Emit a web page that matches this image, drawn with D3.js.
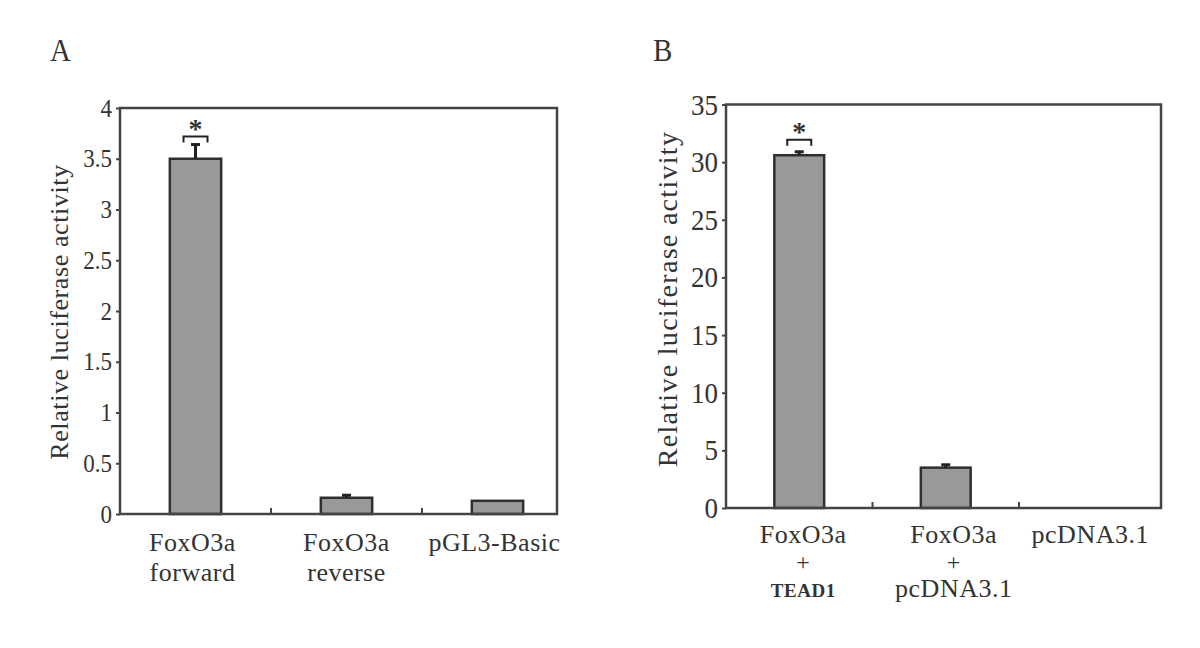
<!DOCTYPE html>
<html><head><meta charset="utf-8">
<script src="https://cdn.jsdelivr.net/npm/d3@7"></script>
<style>
body{margin:0;background:#fff;}
svg text{font-family:"Liberation Serif","Times New Roman",serif;fill:#333;}
</style></head>
<body><svg id="c" width="1200" height="648"></svg>
<script>
// ---- data ----
const categoriesA = [["FoxO3a","forward"],["FoxO3a","reverse"],["pGL3-Basic"]];
const valuesA = [3.5, 0.16, 0.13];
const errorsA = [0.14, 0.025, 0];
const ticksA = [0,0.5,1,1.5,2,2.5,3,3.5,4];
const tickLabelsA = ["0","0.5","1","1.5","2","2.5","3","3.5","4"];
const sigA = [true,false,false];

const categoriesB = [["FoxO3a","+","TEAD1"],["FoxO3a","+","pcDNA3.1"],["pcDNA3.1"]];
const valuesB = [30.6, 3.5, 0];
const errorsB = [0.3, 0.25, 0];
const ticksB = [0,5,10,15,20,25,30,35];
const tickLabelsB = ["0","5","10","15","20","25","30","35"];
const sigB = [true,false,false];

const yTitle = "Relative luciferase activity";

const svg = d3.select("#c");

function panel(o){
  const g = svg.append("g");
  const x = d3.scaleBand().domain(d3.range(o.cats.length)).range([o.left, o.left + o.step*o.cats.length]).padding(0);
  const y = d3.scaleLinear().domain(o.domain).range([o.bottom, o.top]);
  const bw = x.bandwidth()*0.34;
  const right = o.right;

  // y axis ticks & labels
  const yAxis = d3.axisLeft(y).tickValues(o.ticks).tickFormat((d,i)=>o.tickLabels[i]).tickSize(4).tickPadding(4);
  const ya = g.append("g").attr("transform",`translate(${o.left},0)`).call(yAxis);
  ya.select(".domain").remove();
  ya.attr("font-family",null);
  ya.selectAll(".tick line").attr("stroke","#444").attr("stroke-width",2);
  ya.selectAll(".tick text").attr("font-size",o.tickFont).attr("fill","#333")
    .attr("transform","scale(1,1.1)").attr("y",0);

  // category boundary ticks (inside, upward)
  g.selectAll(".ctick").data(d3.range(1,o.cats.length)).enter().append("line")
    .attr("x1",d=>x(d)).attr("x2",d=>x(d)).attr("y1",o.bottom).attr("y2",o.bottom-6)
    .attr("stroke","#444").attr("stroke-width",2);

  // bars
  g.selectAll(".bar").data(o.values).enter().append("rect")
    .attr("x",(d,i)=>x(i)+x.bandwidth()/2-bw/2).attr("width",bw)
    .attr("y",d=>y(d)).attr("height",d=>o.bottom-y(d))
    .attr("fill",d=>d>0?"#999999":"none").attr("stroke",d=>d>0?"#2f2f2f":"none").attr("stroke-width",2.5);

  // error bars (upward only)
  o.values.forEach((v,i)=>{
    const e=o.errors[i]; if(!e) return;
    const cx=x(i)+x.bandwidth()/2;
    g.append("line").attr("x1",cx).attr("x2",cx).attr("y1",y(v)).attr("y2",y(v+e)).attr("stroke","#222").attr("stroke-width",3);
    g.append("line").attr("x1",cx-4.5).attr("x2",cx+4.5).attr("y1",y(v+e)).attr("y2",y(v+e)).attr("stroke","#222").attr("stroke-width",3);
    if(o.sig[i]){
      const by=y(v+e)-o.gap;
      g.append("path").attr("d",`M${cx-12},${by+6}V${by}H${cx+12}V${by+6}`).attr("fill","none").attr("stroke","#222").attr("stroke-width",2);
      g.append("text").attr("x",cx).attr("y",by+1).attr("text-anchor","middle").attr("font-size",28).attr("font-weight","bold").attr("fill","#111").text("*");
    }
  });

  // frame
  g.append("rect").attr("x",o.left).attr("y",o.top).attr("width",right-o.left).attr("height",o.bottom-o.top)
    .attr("fill","none").attr("stroke","#444").attr("stroke-width",2.5);

  // x labels
  o.cats.forEach((lines,i)=>{
    const cx=x(i)+x.bandwidth()/2+o.labelShift[i];
    lines.forEach((t,j)=>{
      const small = (t==="TEAD1");
      const plus = (t==="+");
      g.append("text").attr("x",cx).attr("y",o.labelY[j]).attr("text-anchor","middle")
        .attr("font-size",small?19:(plus?24:26)).attr("font-weight",small?"bold":"normal")
        .attr("letter-spacing",small?0.5:0.5).text(t);
    });
  });

  // y title
  g.append("text").attr("transform",`translate(${o.titleX},${o.titleY}) rotate(-90)`)
    .attr("text-anchor","middle").attr("font-size",o.titleFont).attr("letter-spacing",o.titleSpacing).text(yTitle);

  // panel letter
  g.append("text").attr("transform",`translate(${o.letterX},61) scale(1,1.1)`).attr("font-size",29).text(o.letter);
}

panel({cats:categoriesA, values:valuesA, errors:errorsA, ticks:ticksA, tickLabels:tickLabelsA, sig:sigA,
  domain:[0,4], left:120, right:557, step:151, top:108, bottom:514, tickFont:23, gap:8,
  labelY:[551,581], labelShift:[-3,0,-3], titleX:68, titleY:312, titleFont:26, titleSpacing:0.6, letter:"A", letterX:50});

panel({cats:categoriesB, values:valuesB, errors:errorsB, ticks:ticksB, tickLabels:tickLabelsB, sig:sigB,
  domain:[0,35], left:726, right:1161, step:146.5, top:104.5, bottom:508, tickFont:27, gap:12,
  labelY:[543,570,597], labelShift:[4,8,-2], titleX:677, titleY:299, titleFont:28, titleSpacing:1.3, letter:"B", letterX:653});
</script></body></html>
